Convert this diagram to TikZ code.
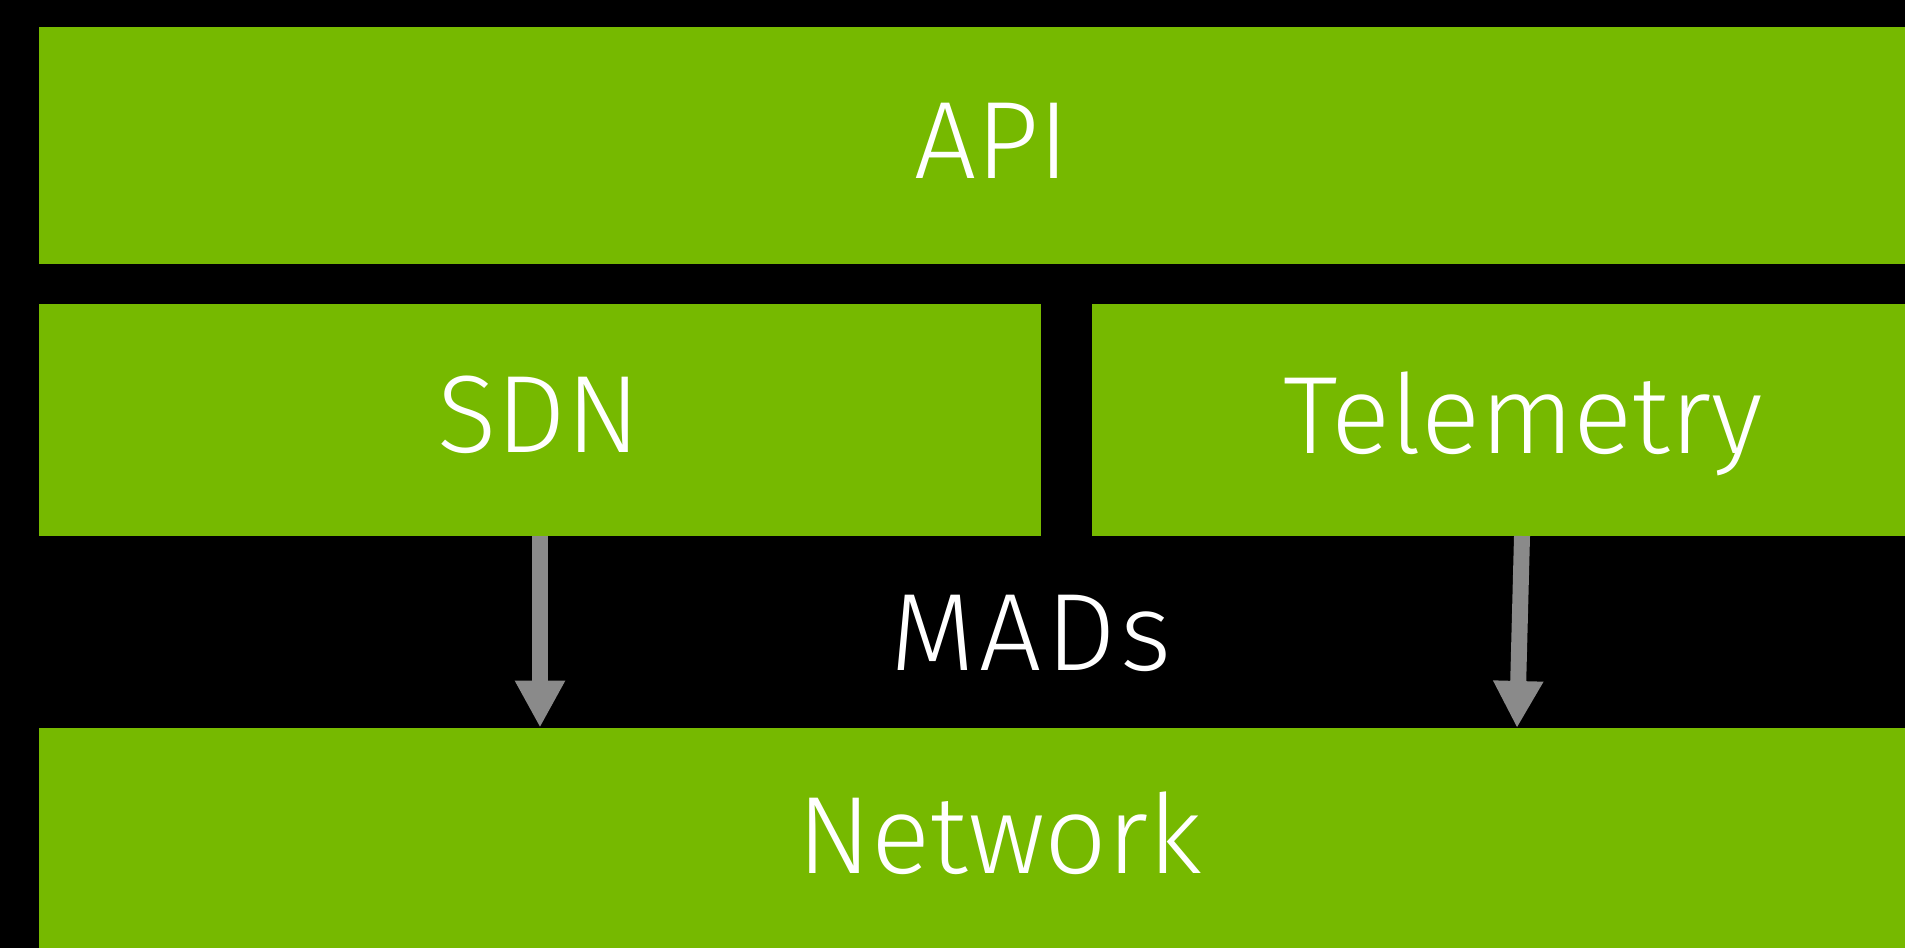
\documentclass[tikz,border=0pt]{standalone}
\usepackage{fontspec}
\setmainfont{Fira Sans}[UprightFont=* Light]
\usetikzlibrary{arrows.meta}
\definecolor{nvgreen}{RGB}{118,185,0}
\definecolor{arrowgray}{RGB}{138,138,138}
\begin{document}
\begin{tikzpicture}[x=1pt,y=1pt,
  layer/.style={fill=nvgreen, draw=none, inner sep=0pt, anchor=south west},
  caption/.style={text=white, inner sep=0pt, anchor=base, font=\fontsize{110}{130}\selectfont},
  flow/.style={draw=arrowgray, line width=16pt, -{Triangle[width=47pt,length=47pt]}}]
  % black canvas
  \fill[black] (0,0) rectangle (1905,948);
  \useasboundingbox (0,0) rectangle (1905,948);

  % stacked layers
  \node[layer, minimum width=1866pt, minimum height=237pt] (api) at (39,684) {};
  \node[layer, minimum width=1002pt, minimum height=232pt] (sdn) at (39,412) {};
  \node[layer, minimum width=813pt, minimum height=232pt] (tel) at (1092,412) {};
  \node[layer, minimum width=1866pt, minimum height=220pt] (net) at (39,0) {};

  % labels
  \node[caption] (apitext) at (992,769) {API};
  \node[caption] (sdntext) at (539,495) {SDN};
  \node[caption] (teltext) at (1523,494) {Telemetry};
  \node[caption] (madtext) at (1031,277) {\addfontfeatures{LetterSpace=4}MADs};
  \node[caption] (nettext) at (1000,75) {Network};

  % data flow into the network layer
  \coordinate (sdnout) at (540,412);
  \coordinate (telout) at (1522,412);
  \coordinate (telin) at (1517,220);
  \draw[flow] (sdnout) -- (sdnout |- net.north);
  \draw[flow] (telout) -- (telin);
\end{tikzpicture}
\end{document}
